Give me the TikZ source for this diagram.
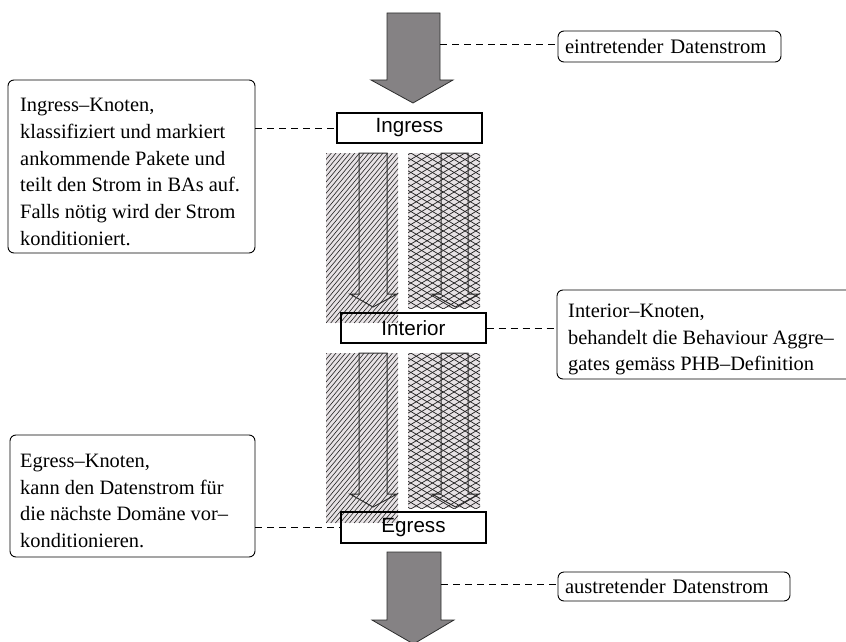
\documentclass[tikz,border=0pt]{standalone}
\usepackage{fontspec}
\setmainfont{Liberation Serif}
\newfontfamily\boxfont{Liberation Sans}
\definecolor{flowgray}{RGB}{133,130,132}
\definecolor{flowedge}{RGB}{45,45,45}
\definecolor{hatchbg}{RGB}{231,226,229}
\definecolor{hatchink}{RGB}{35,35,35}
% multi-line note text; the baseline of the node is the first line
\newcommand\notelines[1]{\parbox[t]{330pt}{\fontsize{20.4}{26.7}\selectfont\raggedright #1}}
\begin{document}
\begin{tikzpicture}[x=1pt,y=-1pt,
  nodebox/.style={draw=black, line width=1.1pt, minimum width=145pt, minimum height=30pt,
    inner sep=0pt, font=\boxfont\fontsize{20.6}{24}\selectfont},
  note/.style={draw=black, rounded corners=6pt, line width=0.9pt, inner sep=0pt},
  notetext/.style={anchor=base west, inner sep=0pt},
  leader/.style={draw=black, line width=0.8pt, dash pattern=on 7pt off 5pt},
  bigarrow/.style={fill=flowgray, draw=flowedge, line width=0.8pt},
  hollow/.style={draw=flowedge, line width=1pt},
  hatchline/.style={draw=hatchink, line width=0.6pt},
  crossline/.style={draw=hatchink, line width=0.7pt}]
\clip (0,0) rectangle (846,642);

% hatched behaviour aggregates between the nodes
\foreach \dy in {0,200}{
  \begin{scope}[shift={(0,\dy)}]
    \begin{scope}
      \fill[hatchbg] (326,153) rectangle (398,323);
      \clip (326,153) rectangle (398,323);
      \foreach \k in {-40,...,20}
        \draw[hatchline] (326+4.7*\k,323) -- ++(150,-180);
    \end{scope}
    \begin{scope}
      \fill[hatchbg] (408,153) rectangle (480,308);
      \clip (408,153) rectangle (480,308);
      \foreach \k in {-12,...,34}{
        \draw[crossline] (400,153+6.5*\k) -- ++(90,54);
        \draw[crossline] (400,153+6.5*\k) -- ++(90,-54);
      }
    \end{scope}
    \draw[hollow] (359,153) -- (387,153) -- (387,294) -- (397,294) -- (373,307)
      -- (350,294) -- (359,294) -- cycle;
    \draw[hollow] (441,153) -- (468,153) -- (468,294) -- (479,294) -- (455.5,307)
      -- (432,294) -- (441,294) -- cycle;
  \end{scope}
}

% DiffServ nodes
\node[nodebox] (ingress)  at (409.5,128)  {Ingress};
\node[nodebox] (interior) at (413.5,328)  {Interior};
\node[nodebox, minimum height=31pt] (egress) at (413.5,527.5) {Egress};

% incoming and outgoing data stream
\draw[bigarrow] (387,13) -- (440,13) -- (440,80) -- (453,80) -- (413,103)
  -- (371,80) -- (387,80) -- cycle;
\draw[bigarrow] (387,552) -- (441,552) -- (441,620) -- (454,620) -- (413.5,644)
  -- (372,620) -- (387,620) -- cycle;
\coordinate (inflow)  at (440,44);
\coordinate (outflow) at (441,584);

% notes
\node[note, minimum height=31pt, text width=209pt, inner xsep=7pt, align=left,
  font=\fontsize{20.6}{24}\selectfont] (ein) at (669.5,46.5) {eintretender Datenstrom};
\node[note, minimum height=29pt, text width=218pt, inner xsep=7pt, align=left,
  font=\fontsize{20.6}{24}\selectfont] (aus) at (674,586.5) {austretender Datenstrom};

\node[note, minimum width=247pt, minimum height=173pt] (ingnote) at (131.5,166.5) {};
\node[notetext] (ingtext) at (20,111.7) {\notelines{%
  Ingress--Knoten,\\
  klassifiziert und markiert\\
  ankommende Pakete und\\
  teilt den Strom in BAs auf.\\
  Falls nötig wird der Strom\\
  konditioniert.}};

\node[note, minimum width=309pt, minimum height=89pt] (intnote) at (711.5,334.5) {};
\node[notetext] (inttext) at (568,317.3) {\notelines{%
  Interior--Knoten,\\
  behandelt die Behaviour Aggre--\\
  gates gemäss PHB--Definition}};

\node[note, minimum width=245pt, minimum height=122pt] (egnote) at (132.5,496) {};
\node[notetext] (egtext) at (20,467.5) {\notelines{%
  Egress--Knoten,\\
  kann den Datenstrom für\\
  die nächste Domäne vor--\\
  konditionieren.}};

% leader lines
\draw[leader] (inflow) -- (inflow -| ein.west);
\draw[leader] (outflow) -- (outflow -| aus.west);
\draw[leader] (ingnote.east |- ingress.west) -- (ingress.west);
\draw[leader] (interior.east) -- (interior.east -| intnote.west);
\draw[leader] (egnote.east |- egress.west) -- (egress.west);
\end{tikzpicture}
\end{document}
